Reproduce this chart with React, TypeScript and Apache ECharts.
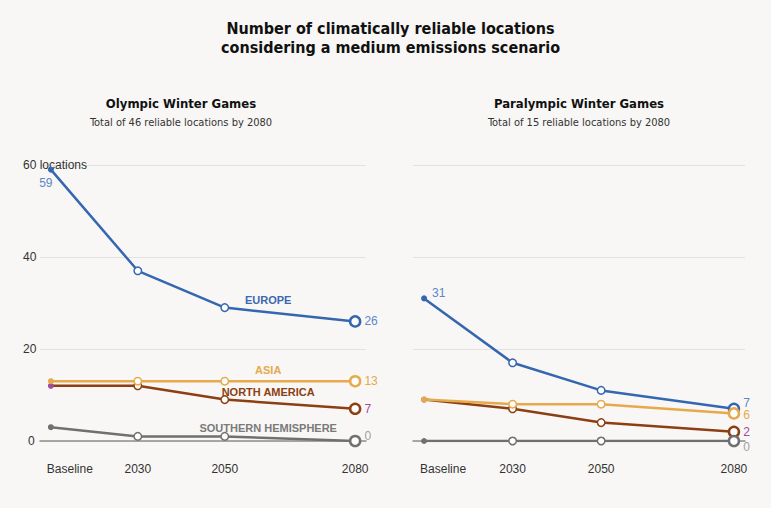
import React, { useEffect, useRef } from "react";
import * as echarts from "echarts";

const years = [2010, 2030, 2050, 2080];
const xTickLabels = ["Baseline", "2030", "2050", "2080"];
const yTicks = [0, 20, 40, 60];

const olyEurope = [59, 37, 29, 26];
const olyAsia = [13, 13, 13, 13];
const olyNorthAmerica = [12, 12, 9, 7];
const olySouthern = [3, 1, 1, 0];

const paraEurope = [31, 17, 11, 7];
const paraAsia = [9, 8, 8, 6];
const paraNorthAmerica = [9, 7, 4, 2];
const paraSouthern = [0, 0, 0, 0];

const regionLabels = [
  { name: "EUROPE", year: 2060, value: 30.7, color: "#3a68b2" },
  { name: "ASIA", year: 2060, value: 15.4, color: "#e6a94c" },
  { name: "NORTH AMERICA", year: 2060, value: 10.7, color: "#8c3f12" },
  { name: "SOUTHERN HEMISPHERE", year: 2060, value: 2.8, color: "#7a7a7a" },
];

const COL = {
  europe: { line: "#3567b1", label: "#5b87c9", start: "#3567b1" },
  asia: { line: "#e6a94c", label: "#e6a94c", start: "#e6a94c" },
  na: { line: "#8c3f12", label: "#a24a9d", start: "#a24a9d" },
  sh: { line: "#707070", label: "#a0a0a0", start: "#707070" },
};

const BG = "#f8f7f5";
const FONT = "'Liberation Sans', Arial, sans-serif";
const NARROW = "'Liberation Sans Narrow', 'DejaVu Sans Condensed', 'Liberation Sans', sans-serif";

function buildSeries(
  name: string,
  vals: number[],
  c: { line: string; label: string; start: string },
  idx: number,
  endOffset: number[],
  startLabel: any
) {
  const data = vals.map((v, i) => {
    const item: any = { value: [years[i], v] };
    if (i === 0) {
      item.symbolSize = 6;
      item.itemStyle = { color: c.start, borderColor: c.start, borderWidth: 0 };
      if (startLabel) item.label = startLabel;
    } else if (i === vals.length - 1) {
      item.symbolSize = 10;
      item.itemStyle = { color: "#ffffff", borderColor: c.line, borderWidth: 2.5 };
      item.label = {
        show: true,
        position: "right",
        distance: 3,
        offset: endOffset,
        color: c.label,
        fontSize: 12,
        fontFamily: FONT,
        formatter: String(v),
      };
    } else {
      item.symbolSize = 7.5;
      item.itemStyle = { color: "#ffffff", borderColor: c.line, borderWidth: 1.5 };
    }
    return item;
  });
  return {
    name,
    type: "line",
    xAxisIndex: idx,
    yAxisIndex: idx,
    symbol: "circle",
    showAllSymbol: true,
    data,
    lineStyle: { color: c.line, width: 2.5 },
    itemStyle: { color: c.line },
    label: { show: false },
    emphasis: { disabled: true },
    z: 3,
  };
}

export default function App() {
  const ref = useRef<HTMLDivElement>(null);
  useEffect(() => {
    if (!ref.current) return;
    const chart = echarts.init(ref.current, undefined, { renderer: "svg" });

    const xAxis = (gi: number) => ({
      type: "value",
      gridIndex: gi,
      min: 2007.5,
      max: 2082.5,
      axisLine: { show: true, onZero: true, lineStyle: { color: "#8f8f8f", width: 1.5 } },
      axisTick: { show: false },
      splitLine: { show: false },
      axisLabel: {
        customValues: years,
        margin: 22,
        color: "#333",
        fontSize: 12,
        fontFamily: FONT,
        formatter: (v: number) => {
          const i = years.indexOf(v);
          if (i < 0) return "";
          return i === 0 ? "{b|" + xTickLabels[i] + "}" : xTickLabels[i];
        },
        rich: { b: { padding: [0, 0, 0, 38], color: "#333", fontSize: 12, fontFamily: FONT } },
      },
    });
    const yAxis = (gi: number, showLabels: boolean) => ({
      type: "value",
      gridIndex: gi,
      min: 0,
      max: 60,
      interval: 20,
      axisLine: { show: false },
      axisTick: { show: false },
      splitLine: { show: true, lineStyle: { color: "#e4e2df", width: 1 } },
      axisLabel: {
        show: showLabels,
        align: "left",
        margin: 17,
        color: "#333",
        fontSize: 12,
        fontFamily: FONT,
        formatter: (v: number) => {
          if (!yTicks.includes(v)) return "";
          if (v === 60) return "60 locations";
          if (v === 0) return "{z|0}";
          return String(v);
        },
        rich: { z: { padding: [0, 0, 0, 5], color: "#333", fontSize: 12, fontFamily: FONT } },
      },
    });

    const labelSeries = {
      type: "line",
      xAxisIndex: 0,
      yAxisIndex: 0,
      data: [],
      markPoint: {
        symbol: "circle",
        symbolSize: 1,
        itemStyle: { color: "rgba(0,0,0,0)" },
        data: regionLabels.map((r) => ({
          name: r.name,
          coord: [r.year, r.value],
          label: {
            show: true,
            position: "inside",
            formatter: r.name,
            color: r.color,
            fontSize: 11,
            fontWeight: "bold",
            fontFamily: FONT,
          },
        })),
      },
      z: 5,
    };

    chart.setOption({
      animation: false,
      backgroundColor: BG,
      title: [
        {
          text: "Number of climatically reliable locations\nconsidering a medium emissions scenario",
          left: 385.5,
          top: 14,
          textAlign: "center",
          textStyle: { fontSize: 16, fontWeight: "bold", lineHeight: 19, color: "#111", fontFamily: NARROW },
        },
        {
          text: "Olympic Winter Games",
          subtext: "Total of 46 reliable locations by 2080",
          left: 176,
          top: 90,
          textAlign: "center",
          itemGap: 4,
          textStyle: { fontSize: 13, fontWeight: "bold", lineHeight: 16, color: "#111", fontFamily: NARROW },
          subtextStyle: { fontSize: 11, lineHeight: 14, color: "#333", fontFamily: NARROW },
        },
        {
          text: "Paralympic Winter Games",
          subtext: "Total of 15 reliable locations by 2080",
          left: 574,
          top: 90,
          textAlign: "center",
          itemGap: 4,
          textStyle: { fontSize: 13, fontWeight: "bold", lineHeight: 16, color: "#111", fontFamily: NARROW },
          subtextStyle: { fontSize: 11, lineHeight: 14, color: "#333", fontFamily: NARROW },
        },
      ],
      grid: [
        { left: 40, top: 165, width: 326, height: 276, containLabel: false },
        { left: 413, top: 165, width: 332, height: 276, containLabel: false },
      ],
      xAxis: [xAxis(0), xAxis(1)],
      yAxis: [yAxis(0, true), yAxis(1, false)],
      series: [
        buildSeries("Europe", olyEurope, COL.europe, 0, [0, 0], {
          show: true, position: "bottom", distance: 4, offset: [-5, 0], color: COL.europe.label, fontSize: 12, fontFamily: FONT, formatter: String(olyEurope[0]),
        }),
        buildSeries("North America", olyNorthAmerica, COL.na, 0, [0, 0], null),
        buildSeries("Asia", olyAsia, COL.asia, 0, [0, 0], null),
        buildSeries("Southern Hemisphere", olySouthern, COL.sh, 0, [0, -5], null),
        buildSeries("Europe", paraEurope, COL.europe, 1, [0, -6], {
          show: true, position: "right", distance: 5, offset: [0, -5], color: COL.europe.label, fontSize: 12, fontFamily: FONT, formatter: String(paraEurope[0]),
        }),
        buildSeries("North America", paraNorthAmerica, COL.na, 1, [0, 0], null),
        buildSeries("Asia", paraAsia, COL.asia, 1, [0, 2], null),
        buildSeries("Southern Hemisphere", paraSouthern, COL.sh, 1, [0, 6], null),
        labelSeries,
      ],
    });
    return () => chart.dispose();
  }, []);

  return (
    <div
      ref={ref}
      style={{ position: "fixed", left: 0, top: 0, width: 771, height: 508, background: BG }}
    />
  );
}
